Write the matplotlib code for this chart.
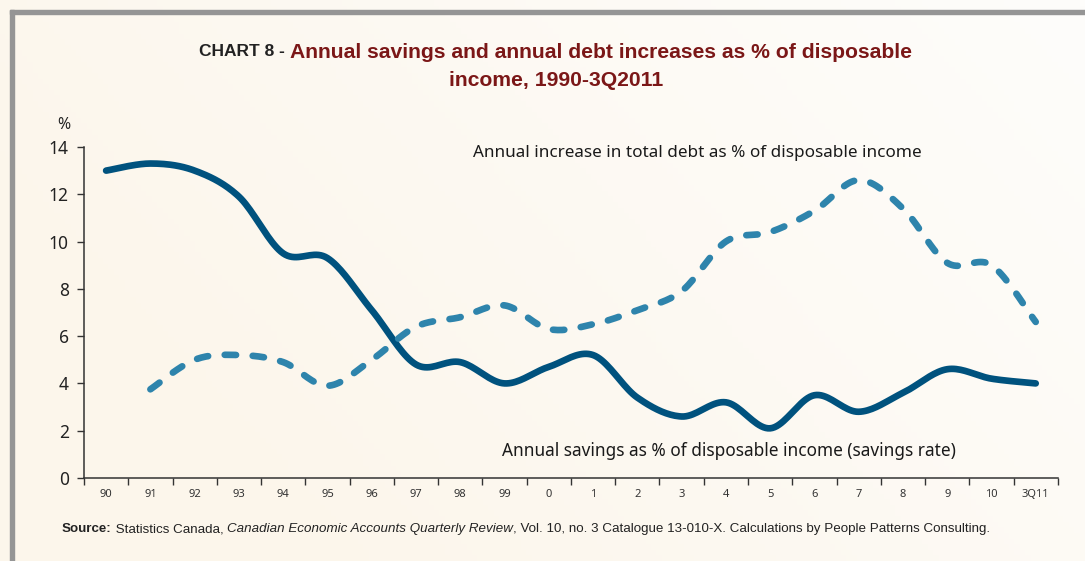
import numpy as np
import matplotlib
matplotlib.use('Agg')
import matplotlib.pyplot as plt
from matplotlib.patches import Rectangle
from matplotlib.colors import LinearSegmentedColormap

# data (per cent of disposable income)
years = ['90', '91', '92', '93', '94', '95', '96', '97', '98', '99', '0',
         '1', '2', '3', '4', '5', '6', '7', '8', '9', '10', '3Q11']
savings = [13.0, 13.3, 13.0, 11.9, 9.5, 9.3, 7.1, 4.8, 4.9, 4.0, 4.7,
           5.2, 3.4, 2.6, 3.2, 2.1, 3.5, 2.8, 3.6, 4.6, 4.2, 4.0]
debt = [None, 3.75, 5.0, 5.2, 4.9, 3.9, 5.0, 6.4, 6.8, 7.3, 6.3,
        6.5, 7.1, 7.9, 10.0, 10.4, 11.3, 12.6, 11.4, 9.1, 9.0, 6.6]

BG = '#fcf8f0'
DARK_BLUE = '#00527e'
LIGHT_BLUE = '#2e84ac'
RED = '#7b1717'
BODY = ['Noto Sans', 'DejaVu Sans']
NARROW = ['Liberation Sans Narrow', 'Liberation Sans', 'DejaVu Sans']


def smooth(xs, ys, n=20):
    # catmull-rom curve through the points, like a smoothed excel line
    p = np.column_stack([xs, ys]).astype(float)
    p = np.vstack([p[0], p, p[-1]])
    out = []
    for i in range(1, len(p) - 2):
        p0, p1, p2, p3 = p[i - 1], p[i], p[i + 1], p[i + 2]
        t = np.linspace(0, 1, n, endpoint=False)[:, None]
        seg = 0.5 * ((2 * p1) + (-p0 + p2) * t + (2 * p0 - 5 * p1 + 4 * p2 - p3) * t ** 2
                     + (-p0 + 3 * p1 - 3 * p2 + p3) * t ** 3)
        out.append(seg)
    out.append(p[-2][None, :])
    out = np.vstack(out)
    return out[:, 0], out[:, 1]


fig = plt.figure(figsize=(10.85, 5.61), dpi=100, facecolor=BG)

# soft cream-to-white background
bg_ax = fig.add_axes([0, 0, 1, 1], zorder=-10)
gx, gy = np.meshgrid(np.linspace(0, 1, 200), np.linspace(0, 1, 100))
grad = np.clip(0.75 * gx + 0.35 * (1 - gy) - 0.2, 0, 1)
cmap = LinearSegmentedColormap.from_list('bg', ['#fcf6eb', '#fefdfb'])
bg_ax.imshow(grad, cmap=cmap, aspect='auto', extent=[0, 1, 0, 1], origin='upper')
bg_ax.axis('off')

ax = fig.add_axes([0.0774, 0.148, 0.8976, 0.590])
ax.set_facecolor('none')

x = np.arange(len(years))
sx, sy = smooth(x, savings)
ax.plot(sx, sy, color=DARK_BLUE, lw=4.8, solid_capstyle='round')

dx = [i for i, v in enumerate(debt) if v is not None]
dy = [v for v in debt if v is not None]
tx, ty = smooth(dx, dy)
line, = ax.plot(tx, ty, color=LIGHT_BLUE, lw=4.8, dash_capstyle='round')
line.set_dashes((1.7, 2.5))

ax.set_xlim(-0.5, len(years) - 0.5)
ax.set_ylim(0, 14)
ax.set_yticks(range(0, 15, 2))
ax.set_xticks(np.arange(len(years) + 1) - 0.5)
ax.set_xticklabels([])
ax.set_xticks(x, minor=True)
ax.set_xticklabels(years, minor=True, fontsize=8, family=BODY, color='#333333')
ax.tick_params(axis='x', which='minor', length=0, pad=8)
ax.tick_params(axis='x', which='major', length=5, width=1, color='#333333')
ax.tick_params(axis='y', length=5, width=1, color='#333333', labelsize=12.5,
               labelcolor='#222222', pad=6)
for lab in ax.get_yticklabels():
    lab.set_family(BODY)
for s in ['top', 'right']:
    ax.spines[s].set_visible(False)
for s in ['left', 'bottom']:
    ax.spines[s].set_color('#333333')
    ax.spines[s].set_linewidth(1.1)

ax.text(8.29, 13.75, 'Annual increase in total debt as % of disposable income',
        fontsize=12.3, family=BODY, color='#1a1a1a', va='center')
ax.text(8.94, 1.14, 'Annual savings as % of disposable income (savings rate)',
        fontsize=12.4, family=BODY, color='#1a1a1a', va='center')
fig.text(64 / 1085, 1 - 125 / 561, '%', fontsize=11.5, family=BODY, color='#222222',
         ha='center', va='center')

# title
fig.text(290 / 1085, 1 - 52 / 561, 'CHART 8 - ', fontsize=12.5, weight='bold',
         family=NARROW, color='#222222', ha='right', va='center')
fig.text(290 / 1085, 1 - 52 / 561,
         'Annual savings and annual debt increases as % of disposable',
         fontsize=15.2, weight='bold', family=NARROW, color=RED, ha='left', va='center')
fig.text(556 / 1085, 1 - 80 / 561, 'income, 1990-3Q2011', fontsize=15.2, weight='bold',
         family=NARROW, color=RED, ha='center', va='center')

# source line, pieces placed one after another
fig.canvas.draw()
r = fig.canvas.get_renderer()
xpos = 62
pieces = [('Source:', 'bold', 'normal'), (' Statistics Canada, ', 'normal', 'normal'),
          ('Canadian Economic Accounts Quarterly Review', 'normal', 'italic'),
          (', Vol. 10, no. 3 Catalogue 13-010-X. Calculations by People Patterns Consulting.',
           'normal', 'normal')]
for txt, w, st in pieces:
    t = fig.text(xpos / 1085, 1 - 529 / 561, txt, fontsize=9.6, weight=w, style=st,
                 family=NARROW, color='#222222', va='center')
    xpos = t.get_window_extent(r).x1

# frame border
fig.patches.append(Rectangle((10 / 1085, 1 - 14 / 561), 1, 4 / 561,
                             transform=fig.transFigure, color='#959595', zorder=5))
fig.patches.append(Rectangle((10 / 1085, 0), 4 / 1085, 1 - 10 / 561,
                             transform=fig.transFigure, color='#959595', zorder=5))

fig.savefig('out.png', dpi=100, facecolor=BG)
